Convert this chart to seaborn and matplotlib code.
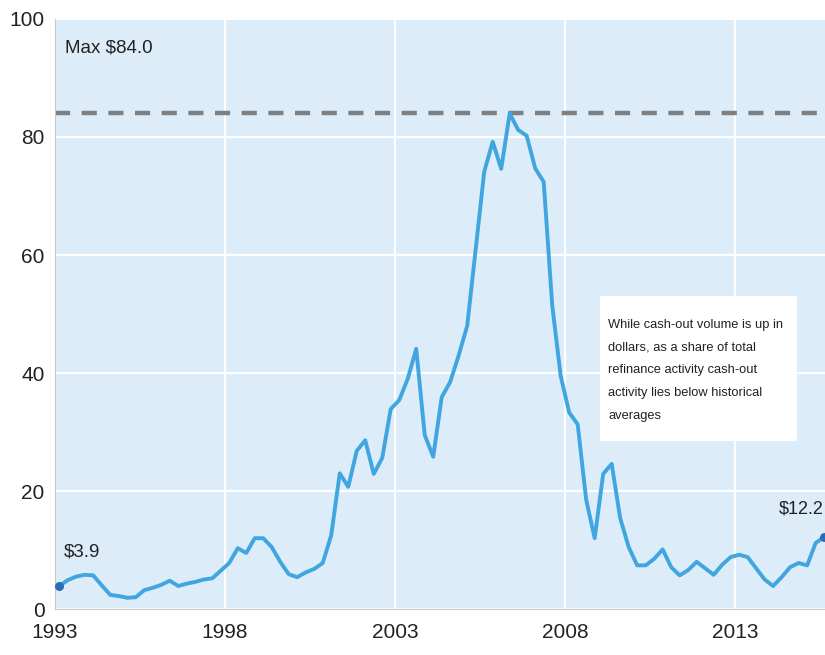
import numpy as np
import pandas as pd
import seaborn as sns
import matplotlib.pyplot as plt
from matplotlib.patches import Rectangle

## Data: quarterly cash-out refinance volume ($bn), 1993Q1 - 2015Q3
start_year = 1993
values = [3.9, 4.9, 5.5, 5.8, 5.7, 4.0, 2.4, 2.2, 1.9, 2.0,
          3.2, 3.6, 4.1, 4.8, 3.9, 4.3, 4.6, 5.0, 5.2, 6.5,
          7.8, 10.3, 9.5, 12.0, 12.0, 10.5, 8.0, 5.9, 5.4, 6.2,
          6.8, 7.8, 12.5, 23.0, 20.7, 26.8, 28.6, 22.9, 25.6, 33.9,
          35.4, 39.0, 44.1, 29.5, 25.8, 35.9, 38.5, 43.0, 48.0, 61.0,
          74.1, 79.2, 74.6, 84.0, 81.2, 80.2, 74.7, 72.4, 51.5, 39.5,
          33.3, 31.3, 18.5, 12.0, 22.9, 24.6, 15.4, 10.5, 7.4, 7.4,
          8.5, 10.1, 7.1, 5.7, 6.6, 8.0, 6.9, 5.8, 7.5, 8.8,
          9.2, 8.8, 6.9, 5.0, 3.9, 5.4, 7.1, 7.8, 7.4, 11.2, 12.2]
max_value = 84.0
xticks = [1993, 1998, 2003, 2008, 2013]
yticks = [0, 20, 40, 60, 80, 100]
note = ("While cash-out volume is up in\ndollars, as a share of total\n"
        "refinance activity cash-out\nactivity lies below historical\naverages")

df = pd.DataFrame({"year": start_year + 0.125 + 0.25 * np.arange(len(values)),
                   "volume": values})

sns.set_style("whitegrid", {"axes.facecolor": "#dcedf9", "grid.color": "white",
                            "axes.edgecolor": "#c8c8c8"})
plt.rcParams['font.family'] = ['Liberation Sans', 'DejaVu Sans']

fig = plt.figure(figsize=(8.25, 6.55), dpi=100)
ax = fig.add_axes([0.0667, 0.0702, 0.9333, 0.9008])

ax.axhline(max_value, color="#7f7f7f", lw=3.2, dashes=(3.4, 2.6), zorder=2)
sns.lineplot(data=df, x="year", y="volume", color="#41a6df", lw=2.8, ax=ax, zorder=3)
ends = df.iloc[[0, -1]]
ax.scatter(ends.year, ends.volume, color="#2b6cb5", s=30, zorder=4, clip_on=False)

ax.set_xlim(1993, 2015.65)
ax.set_ylim(0, 100)
ax.set_xticks(xticks)
ax.set_yticks(yticks)
ax.grid(True, color="white", lw=1.5)
ax.set_xlabel("")
ax.set_ylabel("")
for s in ["top", "right"]:
    ax.spines[s].set_visible(False)
ax.tick_params(axis="both", labelsize=15, colors="#c8c8c8", labelcolor="#222222",
               length=4, width=1, direction="out")
ax.tick_params(axis="x", pad=6)

ax.text(1993.3, 95, "Max $84.0", fontsize=13.5, color="#222222", va="center")
ax.text(1993.25, 9.7, "$3.9", fontsize=13.5, color="#222222", va="center")
ax.text(2014.3, 16.9, "$12.2", fontsize=13, color="#222222", va="center")

ax.add_patch(Rectangle((2009.03, 28.5), 5.8, 24.5, facecolor="white",
                       edgecolor="none", zorder=5))
ax.text(2009.28, 49.2, note, fontsize=9.3, color="#222222", va="top",
        linespacing=2.2, zorder=6)

fig.savefig("out.png", dpi=100)
